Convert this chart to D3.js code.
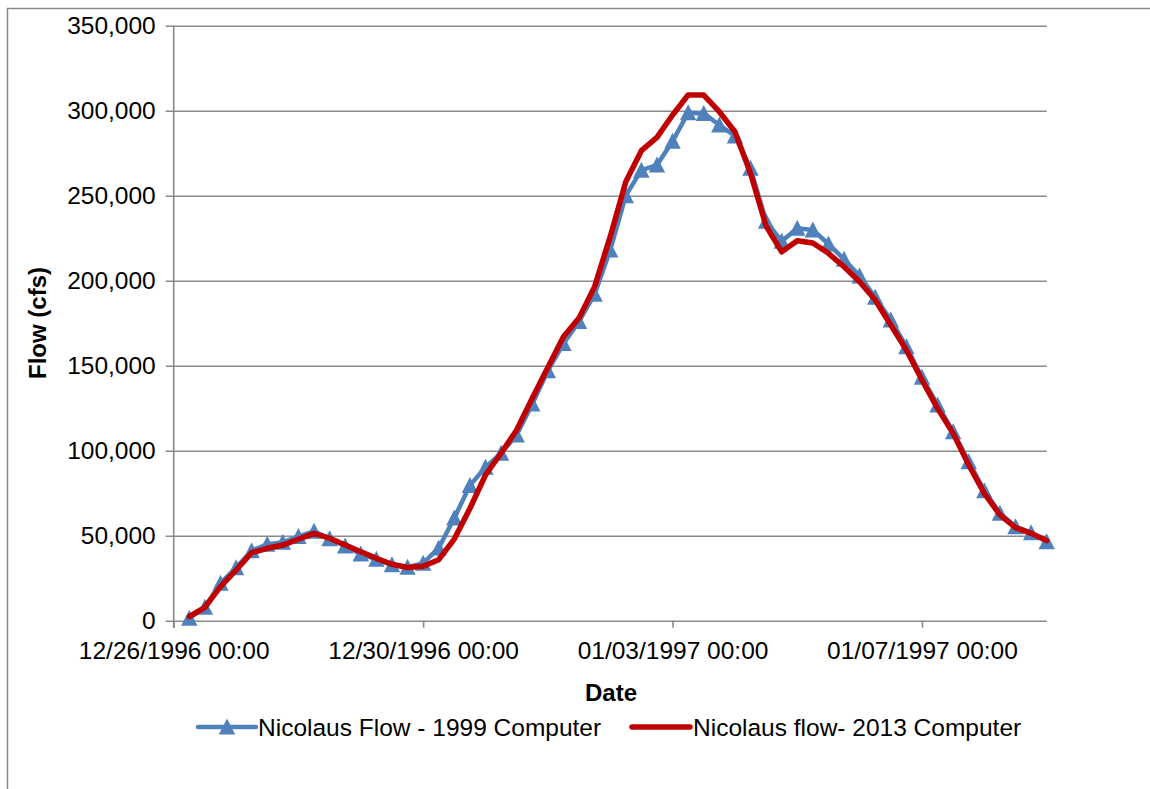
<!DOCTYPE html>
<html>
<head>
<meta charset="utf-8">
<script src="https://cdn.jsdelivr.net/npm/d3@7"></script>
<style>
body{margin:0;background:#fff;}
svg text{font-family:"Liberation Sans",Arial,sans-serif;fill:#000;}
</style>
</head>
<body>
<div id="chart"></div>
<script>
//sample times, every 6 hours
var times=[
    "1996-12-26T06:00","1996-12-26T12:00","1996-12-26T18:00",
    "1996-12-27T00:00","1996-12-27T06:00","1996-12-27T12:00","1996-12-27T18:00",
    "1996-12-28T00:00","1996-12-28T06:00","1996-12-28T12:00","1996-12-28T18:00",
    "1996-12-29T00:00","1996-12-29T06:00","1996-12-29T12:00","1996-12-29T18:00",
    "1996-12-30T00:00","1996-12-30T06:00","1996-12-30T12:00","1996-12-30T18:00",
    "1996-12-31T00:00","1996-12-31T06:00","1996-12-31T12:00","1996-12-31T18:00",
    "1997-01-01T00:00","1997-01-01T06:00","1997-01-01T12:00","1997-01-01T18:00",
    "1997-01-02T00:00","1997-01-02T06:00","1997-01-02T12:00","1997-01-02T18:00",
    "1997-01-03T00:00","1997-01-03T06:00","1997-01-03T12:00","1997-01-03T18:00",
    "1997-01-04T00:00","1997-01-04T06:00","1997-01-04T12:00","1997-01-04T18:00",
    "1997-01-05T00:00","1997-01-05T06:00","1997-01-05T12:00","1997-01-05T18:00",
    "1997-01-06T00:00","1997-01-06T06:00","1997-01-06T12:00","1997-01-06T18:00",
    "1997-01-07T00:00","1997-01-07T06:00","1997-01-07T12:00","1997-01-07T18:00",
    "1997-01-08T00:00","1997-01-08T06:00","1997-01-08T12:00","1997-01-08T18:00",
    "1997-01-09T00:00"
];

//flow, 1999 computer (cfs)
var flow1999=[
    1500,7900,22000,31200,41200,44900,46100,49600,52600,48200,
    43900,39200,36100,32900,31500,33800,42800,60400,79600,90200,
    98500,109200,127500,147000,163000,176000,192000,218000,250000,265000,
    268000,282000,298800,298400,291600,285100,266100,235000,223200,230800,
    229800,221600,212600,202800,190200,176900,161200,143200,126900,111200,
    93500,76500,63200,55300,51800,46500
];

//flow, 2013 computer (cfs)
var flow2013=[
    2400,7900,20000,29800,40000,42600,44500,47900,51400,48500,
    44500,40600,36700,33200,31300,32000,35900,48000,66000,85700,
    98500,112200,130800,149000,167000,178000,196500,225900,258200,276500,
    284300,297500,309200,309200,299400,287600,263200,232200,217000,223500,
    222200,216100,208200,199400,188600,173900,159200,141600,124900,110200,
    91600,74900,62200,54700,51400,47100
];

var xTickDates=["1996-12-26T00:00","1996-12-30T00:00","1997-01-03T00:00","1997-01-07T00:00"];
var yTicks=[0,50000,100000,150000,200000,250000,300000,350000];
var seriesNames=["Nicolaus Flow - 1999 Computer","Nicolaus flow- 2013 Computer"];

//set size
var svgWidth=1150;
var svgHeight=789;

var margin={
    top: 25.7,
    right: 103.3,
    bottom: 168.3,
    left: 173.7
};
var width=svgWidth-margin.left-margin.right;
var height=svgHeight-margin.top-margin.bottom;

var parseTime=d3.timeParse("%Y-%m-%dT%H:%M");
var fmtTime=d3.timeFormat("%m/%d/%Y %H:%M");

var blueData=times.map((t,i)=>({date:parseTime(t),value:flow1999[i]}));
var redData=times.map((t,i)=>({date:parseTime(t),value:flow2013[i]}));

var svg=d3.select("#chart")
    .append("svg")
    .attr("width",svgWidth)
    .attr("height",svgHeight)
    .style("display","block");

svg.append("rect")
    .attr("width",svgWidth)
    .attr("height",svgHeight)
    .attr("fill","#fff");

//outer chart border (runs off the page)
svg.append("rect")
    .attr("x",7.5)
    .attr("y",8.5)
    .attr("width",1200)
    .attr("height",900)
    .attr("fill","none")
    .attr("stroke","#8a8a8a")
    .attr("stroke-width",1.5);

var chartGroup=svg.append("g")
    .attr("transform",`translate(${margin.left},${margin.top})`);

var xScale=d3.scaleTime()
    .domain([parseTime("1996-12-26T00:00"),parseTime("1997-01-09T00:00")])
    .range([0,width]);

var yScale=d3.scaleLinear()
    .domain([0,350000])
    .range([height,0]);

//gridlines + left ticks
var leftAxis=d3.axisLeft(yScale)
    .tickValues(yTicks)
    .tickSize(-width-8)
    .tickSizeOuter(0)
    .tickPadding(10)
    .tickFormat(d3.format(","));

var yAxis=chartGroup.append("g")
    .attr("transform","translate(-8,0)")
    .call(leftAxis);
yAxis.select(".domain").remove();
yAxis.selectAll("line")
    .attr("x1",8+width)
    .attr("x2",0)
    .attr("stroke","#8a8a8a")
    .attr("stroke-width",1.6);
yAxis.selectAll("text")
    .attr("x",-10)
    .style("font-size","24.5px");

//y axis line
chartGroup.append("line")
    .attr("x1",0).attr("x2",0)
    .attr("y1",0).attr("y2",height+7)
    .attr("stroke","#8a8a8a")
    .attr("stroke-width",1.6);

//x axis ticks
var bottomAxis=d3.axisBottom(xScale)
    .tickValues(xTickDates.map(parseTime))
    .tickSize(7)
    .tickSizeOuter(0)
    .tickPadding(14)
    .tickFormat(fmtTime);

var xAxis=chartGroup.append("g")
    .attr("transform",`translate(0,${height})`)
    .call(bottomAxis);
xAxis.select(".domain").remove();
xAxis.selectAll("line")
    .attr("stroke","#8a8a8a")
    .attr("stroke-width",1.6);
xAxis.selectAll("text")
    .style("font-size","24.5px");

//axis titles
svg.append("text")
    .attr("x",611)
    .attr("y",701)
    .attr("text-anchor","middle")
    .style("font-size","24px")
    .style("font-weight","bold")
    .text("Date");

svg.append("text")
    .attr("transform","translate(46,323) rotate(-90)")
    .attr("text-anchor","middle")
    .style("font-size","24px")
    .style("font-weight","bold")
    .text("Flow (cfs)");

var line=d3.line()
    .x(d=>xScale(d.date))
    .y(d=>yScale(d.value));

var blue="#4f81bd";
var red="#c00000";
var triPath="M0,-8.5L8.2,7.5L-8.2,7.5Z";

//1999 series
chartGroup.append("path")
    .datum(blueData)
    .attr("d",line)
    .attr("fill","none")
    .attr("stroke",blue)
    .attr("stroke-width",4.5)
    .attr("stroke-linejoin","round");

chartGroup.selectAll(".tri")
    .data(blueData)
    .enter()
    .append("path")
    .attr("class","tri")
    .attr("d",triPath)
    .attr("transform",d=>`translate(${xScale(d.date)},${yScale(d.value)})`)
    .attr("fill",blue);

//2013 series
chartGroup.append("path")
    .datum(redData)
    .attr("d",line)
    .attr("fill","none")
    .attr("stroke",red)
    .attr("stroke-width",5.5)
    .attr("stroke-linejoin","round")
    .attr("stroke-linecap","round");

//legend
var legendY=727;
var legend=svg.append("g");
legend.append("line")
    .attr("x1",198).attr("x2",256)
    .attr("y1",legendY).attr("y2",legendY)
    .attr("stroke",blue)
    .attr("stroke-width",4.5)
    .attr("stroke-linecap","round");
legend.append("path")
    .attr("d",triPath)
    .attr("transform",`translate(227,${legendY})`)
    .attr("fill",blue);
legend.append("text")
    .attr("x",258)
    .attr("y",legendY)
    .attr("dy","0.35em")
    .style("font-size","24.5px")
    .text(seriesNames[0]);

legend.append("line")
    .attr("x1",632).attr("x2",690)
    .attr("y1",legendY).attr("y2",legendY)
    .attr("stroke",red)
    .attr("stroke-width",5.5)
    .attr("stroke-linecap","round");
legend.append("text")
    .attr("x",693)
    .attr("y",legendY)
    .attr("dy","0.35em")
    .style("font-size","24.5px")
    .text(seriesNames[1]);
</script>
</body>
</html>
